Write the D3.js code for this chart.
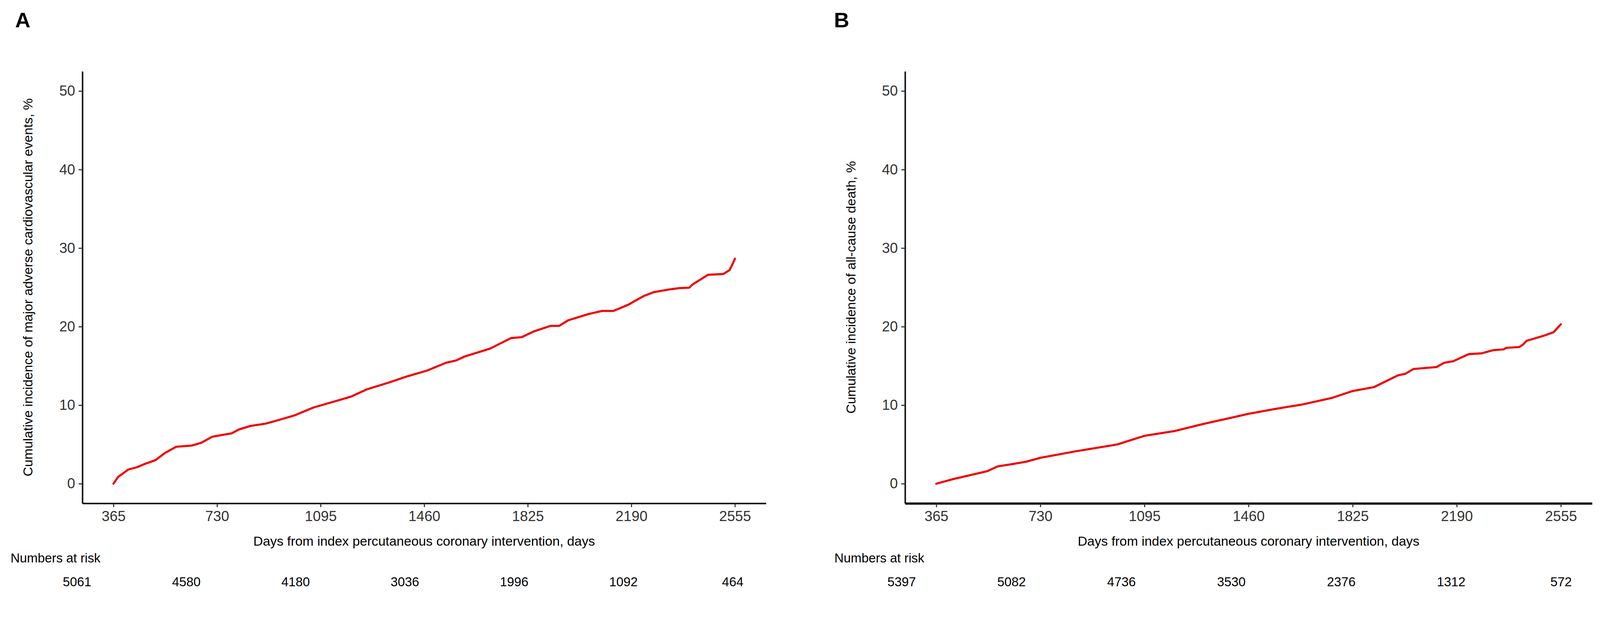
<!DOCTYPE html>
<html>
<head>
<meta charset="utf-8">
<script src="https://cdn.jsdelivr.net/npm/d3@7"></script>
<style>
  html, body { margin: 0; padding: 0; background: #fff; overflow: hidden; }
  svg { display: block; width: 100vw; height: 100vh; font-family: 'Liberation Sans', Arial, sans-serif; }
</style>
</head>
<body>
<svg id="chart" viewBox="0 0 4234 1591" preserveAspectRatio="xMinYMin meet"></svg>
<script>
// x ticks shared by both panels
const dayTicks = [365, 730, 1095, 1460, 1825, 2190, 2555];
const pctTicks = [0, 10, 20, 30, 40, 50];

// Panel A: MACE cumulative incidence
const daysA = [365, 381, 417, 448, 474, 513, 546, 586, 640, 674, 714, 781, 807, 847, 901, 937,
  1003, 1070, 1137, 1203, 1257, 1337, 1403, 1470, 1537, 1573, 1603, 1692, 1767, 1803, 1847,
  1906, 1936, 1967, 2039, 2087, 2127, 2180, 2199, 2234, 2270, 2319, 2359, 2394, 2407, 2434,
  2460, 2514, 2536, 2546, 2555];
const maceA = [0, 0.85, 1.8, 2.1, 2.5, 3.0, 3.9, 4.7, 4.85, 5.2, 6.0, 6.4, 6.9, 7.35, 7.65, 8.0,
  8.7, 9.7, 10.4, 11.1, 12.0, 12.9, 13.7, 14.4, 15.4, 15.7, 16.2, 17.2, 18.55, 18.65, 19.4,
  20.1, 20.1, 20.8, 21.6, 22.0, 22.0, 22.8, 23.2, 23.9, 24.4, 24.7, 24.9, 24.95, 25.4, 26.0,
  26.6, 26.7, 27.2, 27.9, 28.65];
const riskA = [5061, 4580, 4180, 3036, 1996, 1092, 464];

// Panel B: all-cause death cumulative incidence
const daysB = [365, 426, 485, 544, 580, 633, 680, 730, 850, 1000, 1095, 1200, 1300, 1400, 1460,
  1550, 1650, 1750, 1825, 1900, 1984, 2010, 2038, 2119, 2146, 2178, 2232, 2277, 2318, 2354,
  2364, 2409, 2422, 2435, 2454, 2500, 2530, 2555];
const deathB = [0, 0.6, 1.1, 1.6, 2.2, 2.5, 2.8, 3.3, 4.1, 5.0, 6.1, 6.7, 7.6, 8.4, 8.9,
  9.5, 10.1, 10.9, 11.8, 12.3, 13.8, 14.0, 14.6, 14.85, 15.4, 15.6, 16.5, 16.6, 17.0, 17.1,
  17.3, 17.4, 17.7, 18.2, 18.4, 18.9, 19.3, 20.3];
const riskB = [5397, 5082, 4736, 3530, 2376, 1312, 572];

const xTitle = 'Days from index percutaneous coronary intervention, days';

const svg = d3.select('#chart');

function drawPanel(p) {
  const g = svg.append('g');

  const x = d3.scaleLinear().domain([255.5, 2664.5]).range([p.left, p.right]);
  const y = d3.scaleLinear().domain([-2.5, 52.5]).range([1333, 189]);

  // panel letter
  g.append('text')
    .attr('x', p.letterX)
    .attr('y', 72)
    .attr('font-size', 56)
    .attr('font-weight', 'bold')
    .text(p.letter);

  // y axis
  g.append('g')
    .attr('transform', `translate(${p.left},0)`)
    .call(
      d3.axisLeft(y).tickValues(pctTicks).tickFormat(d3.format('d'))
        .tickSize(10).tickPadding(9).tickSizeOuter(0)
    )
    .call((a) => a.select('.domain').attr('stroke', '#111').attr('stroke-width', 4))
    .call((a) => a.selectAll('.tick line').attr('stroke', '#333').attr('stroke-width', 3))
    .call((a) =>
      a.selectAll('.tick text')
        .attr('font-size', 38)
        .attr('fill', '#333')
        .attr('font-family', 'Liberation Sans, Arial, sans-serif')
    );

  // x axis
  g.append('g')
    .attr('transform', `translate(0,1333)`)
    .call(
      d3.axisBottom(x).tickValues(dayTicks).tickFormat(d3.format('d'))
        .tickSize(10).tickPadding(10).tickSizeOuter(0)
    )
    .call((a) => a.select('.domain').attr('stroke', '#111').attr('stroke-width', p.xStroke))
    .call((a) => a.selectAll('.tick line').attr('stroke', '#333').attr('stroke-width', 3))
    .call((a) =>
      a.selectAll('.tick text')
        .attr('font-size', 38)
        .attr('fill', '#333')
        .attr('font-family', 'Liberation Sans, Arial, sans-serif')
    );

  // axis titles
  g.append('text')
    .attr('x', (p.left + p.right) / 2)
    .attr('y', 1445)
    .attr('text-anchor', 'middle')
    .attr('font-size', 35)
    .text(xTitle);

  g.append('text')
    .attr('transform', `translate(${p.yTitleX},761) rotate(-90)`)
    .attr('text-anchor', 'middle')
    .attr('font-size', 35)
    .text(p.yTitle);

  // incidence curve
  const line = d3
    .line()
    .x((d) => x(d[0]))
    .y((d) => y(d[1]));

  g.append('path')
    .datum(d3.zip(p.days, p.values))
    .attr('fill', 'none')
    .attr('stroke', '#f00000')
    .attr('stroke-width', 5.5)
    .attr('stroke-linejoin', 'round')
    .attr('stroke-linecap', 'round')
    .attr('d', line);

  // numbers at risk table
  const xr = d3.scaleLinear().domain([365, 2555]).range(p.riskRange);

  g.append('text')
    .attr('x', p.riskLabelX)
    .attr('y', 1490)
    .attr('font-size', 34)
    .text('Numbers at risk');

  g.selectAll('.risk')
    .data(p.risk)
    .join('text')
    .attr('class', 'risk')
    .attr('x', (d, i) => xr(dayTicks[i]))
    .attr('y', 1553)
    .attr('text-anchor', 'middle')
    .attr('font-size', 34)
    .text((d) => d);
}

drawPanel({
  letter: 'A', letterX: 40,
  left: 218, right: 2027, xStroke: 4,
  yTitleX: 86,
  yTitle: 'Cumulative incidence of major adverse cardiovascular events, %',
  days: daysA, values: maceA,
  risk: riskA, riskRange: [204, 1939], riskLabelX: 28
});

drawPanel({
  letter: 'B', letterX: 2207,
  left: 2395, right: 4213, xStroke: 6,
  yTitleX: 2264,
  yTitle: 'Cumulative incidence of all-cause death, %',
  days: daysB, values: deathB,
  risk: riskB, riskRange: [2386, 4131], riskLabelX: 2208
});
</script>
</body>
</html>
